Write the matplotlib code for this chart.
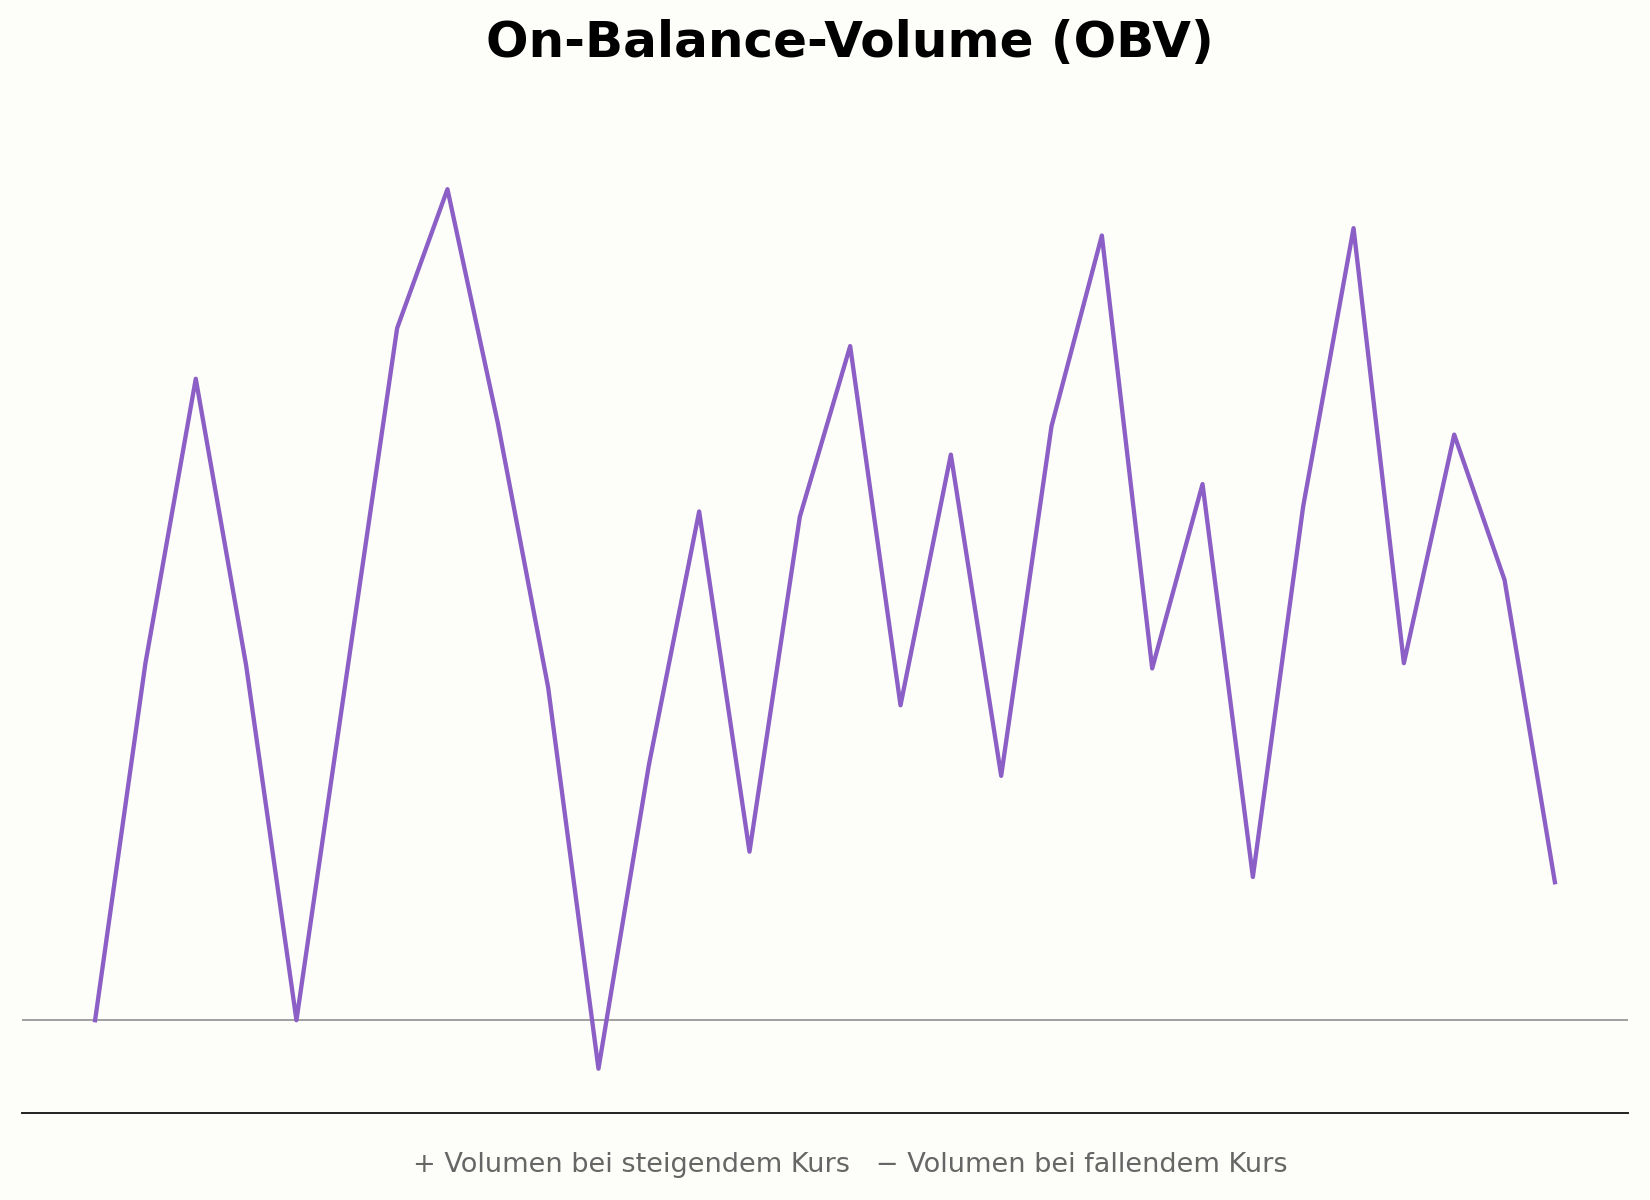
import matplotlib
matplotlib.use("Agg")
import matplotlib.pyplot as plt

periods = list(range(30))
obv = [0, 339, 609, 337, 0, 329, 657, 789, 567, 316,
       -46, 242, 483, 160, 478, 640, 299, 537, 232, 564,
       745, 334, 509, 136, 488, 752, 339, 556, 418, 131]

title = "On-Balance-Volume (OBV)"
note = "+ Volumen bei steigendem Kurs   \u2212 Volumen bei fallendem Kurs"

bg = "#fdfdf9"
fig = plt.figure(figsize=(16.5, 12), dpi=100, facecolor=bg)
ax = fig.add_axes([0.0134, 0.0728, 0.9732, 0.8062])
ax.set_facecolor(bg)

ax.axhline(0, color="#999999", lw=1.3, zorder=1)
ax.plot(periods, obv, color="#8b5fc5", lw=3.1, zorder=2)

for s in ["top", "right", "left"]:
    ax.spines[s].set_visible(False)
ax.spines["bottom"].set_color("#222222")
ax.spines["bottom"].set_linewidth(1.4)
ax.set_xticks([])
ax.set_yticks([])

fig.text(0.5153, 0.964, title, ha="center", va="center", fontsize=36,
         fontweight="bold", color="black")
fig.text(0.5153, 0.029, note, ha="center", va="center", fontsize=19.5,
         color="#666666")

fig.savefig("out.png", dpi=100, facecolor=bg)
